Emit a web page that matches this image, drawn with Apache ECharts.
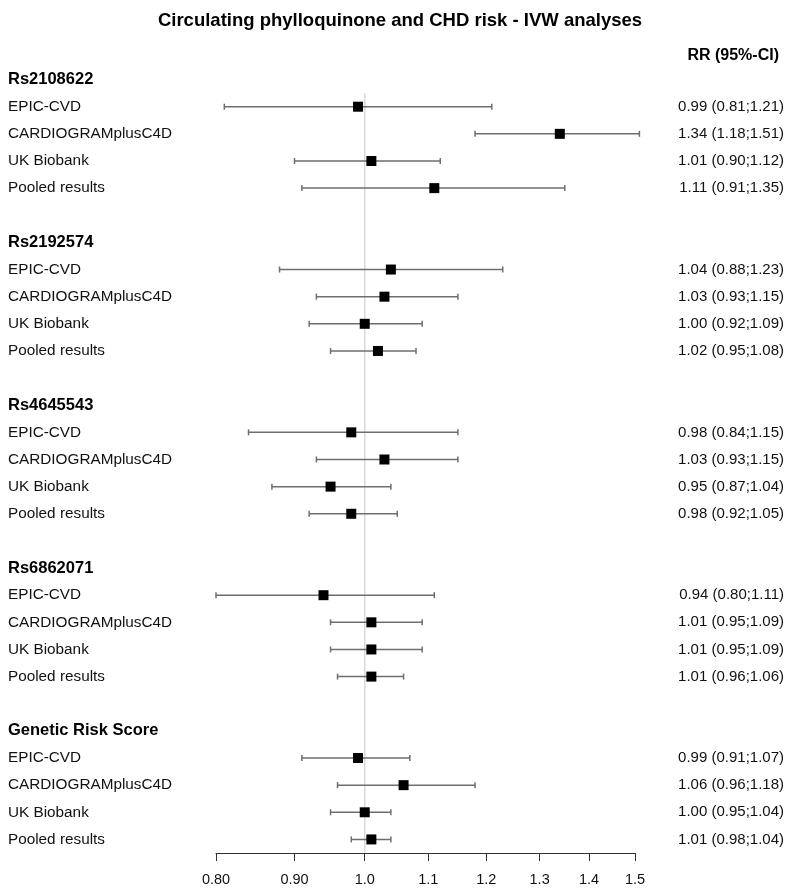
<!DOCTYPE html>
<html>
<head>
<meta charset="utf-8">
<script src="https://cdn.jsdelivr.net/npm/echarts@6/dist/echarts.min.js"></script>
<style>html,body{margin:0;padding:0;background:#fff;}#chart{width:800px;height:895px;}</style>
</head>
<body>
<div id="chart"></div>
<script>
const groups = ['Rs2108622', 'Rs2192574', 'Rs4645543', 'Rs6862071', 'Genetic Risk Score'];
const studies = ['EPIC-CVD', 'CARDIOGRAMplusC4D', 'UK Biobank', 'Pooled results'];
const rr = [
  [0.99, 1.34, 1.01, 1.11],
  [1.04, 1.03, 1.00, 1.02],
  [0.98, 1.03, 0.95, 0.98],
  [0.94, 1.01, 1.01, 1.01],
  [0.99, 1.06, 1.00, 1.01]
];
const lower = [
  [0.81, 1.18, 0.90, 0.91],
  [0.88, 0.93, 0.92, 0.95],
  [0.84, 0.93, 0.87, 0.92],
  [0.80, 0.95, 0.95, 0.96],
  [0.91, 0.96, 0.95, 0.98]
];
const upper = [
  [1.21, 1.51, 1.12, 1.35],
  [1.23, 1.15, 1.09, 1.08],
  [1.15, 1.15, 1.04, 1.05],
  [1.11, 1.09, 1.09, 1.06],
  [1.07, 1.18, 1.04, 1.04]
];
const xTicks = [0.8, 0.9, 1.0, 1.1, 1.2, 1.3, 1.4, 1.5];
const xTickLabels = ['0.80', '0.90', '1.0', '1.1', '1.2', '1.3', '1.4', '1.5'];
const refValue = 1.0;

// Build rows
const rows = [];
const points = [];
groups.forEach((g, gi) => {
  rows.push({type: 'h', left: g, right: ''});
  studies.forEach((s, si) => {
    const idx = rows.length;
    rows.push({type: 'r', left: s,
      right: rr[gi][si].toFixed(2) + ' (' + lower[gi][si].toFixed(2) + ';' + upper[gi][si].toFixed(2) + ')'});
    points.push([idx, rr[gi][si], lower[gi][si], upper[gi][si]]);
  });
  if (gi < groups.length - 1) rows.push({type: 'b', left: '', right: ''});
});
const cats = rows.map((r, i) => 'row' + i);
const FONT = 'Liberation Sans, Arial, Helvetica, sans-serif';

const chart = echarts.init(document.getElementById('chart'));
chart.setOption({
  backgroundColor: '#fff',
  animation: false,
  textStyle: {fontFamily: FONT},
  title: [
    {text: 'Circulating phylloquinone and CHD risk - IVW analyses', left: 'center', top: 6,
     textStyle: {fontFamily: FONT, fontSize: 18.5, fontWeight: 'bold', color: '#000'}},
    {text: 'RR (95%-CI)', right: 16, top: 43,
     textStyle: {fontFamily: FONT, fontSize: 16, fontWeight: 'bold', color: '#000'}}
  ],
  grid: {left: 216, right: 165, top: 66, bottom: 42, containLabel: false},
  xAxis: {
    type: 'log', logBase: 10, min: 0.8, max: 1.5,
    splitLine: {show: false},
    axisLine: {show: true, lineStyle: {color: '#333', width: 1}},
    axisTick: {show: true, length: 8, lineStyle: {color: '#333'}, customValues: xTicks},
    minorTick: {show: false},
    axisLabel: {
      customValues: xTicks, margin: 19, fontSize: 14.5, color: '#111', fontFamily: FONT,
      formatter: function (v) {
        for (let i = 0; i < xTicks.length; i++) if (Math.abs(xTicks[i] - v) < 1e-6) return xTickLabels[i];
        return '';
      }
    }
  },
  yAxis: [
    {
      type: 'category', data: cats, inverse: true, boundaryGap: true,
      axisLine: {show: false}, axisTick: {show: false}, splitLine: {show: false},
      axisLabel: {
        show: true, interval: 0, align: 'left', margin: 208,
        formatter: function (v, i) {
          const r = rows[i];
          if (!r || r.type === 'b') return '';
          return r.type === 'h' ? '{h|' + r.left + '}' : '{r|' + r.left + '}';
        },
        rich: {
          h: {fontFamily: FONT, fontSize: 16.5, fontWeight: 'bold', color: '#000'},
          r: {fontFamily: FONT, fontSize: 15.3, color: '#111'}
        }
      }
    },
    {
      type: 'category', data: cats, inverse: true, boundaryGap: true, position: 'right',
      axisLine: {show: false}, axisTick: {show: false}, splitLine: {show: false},
      axisLabel: {
        show: true, interval: 0, align: 'right', margin: 149,
        fontFamily: FONT, fontSize: 15, color: '#111',
        formatter: function (v, i) { const r = rows[i]; return r ? r.right : ''; }
      }
    }
  ],
  series: [
    {
      type: 'custom', name: 'ref', silent: true, z: 1, clip: false,
      data: [[refValue]],
      encode: {x: 0},
      renderItem: function (params, api) {
        const top = api.coord([refValue, 1]);
        const bot = api.coord([refValue, rows.length - 1]);
        const half = api.size([0, 1])[1] / 2;
        return {
          type: 'line',
          shape: {x1: top[0], y1: top[1] - half, x2: bot[0], y2: bot[1] + half},
          style: {stroke: '#d9d9d9', lineWidth: 1.5}
        };
      }
    },
    {
      type: 'custom', name: 'estimates', z: 3, clip: false,
      data: points,
      encode: {x: [1, 2, 3], y: 0},
      renderItem: function (params, api) {
        const y = api.value(0);
        const est = api.coord([api.value(1), y]);
        const lo = api.coord([api.value(2), y]);
        const hi = api.coord([api.value(3), y]);
        const cap = 3;
        const sq = 10;
        const lineStyle = {stroke: '#6e6e6e', lineWidth: 1.5};
        return {
          type: 'group',
          children: [
            {type: 'line', shape: {x1: lo[0], y1: lo[1], x2: hi[0], y2: hi[1]}, style: lineStyle},
            {type: 'line', shape: {x1: lo[0], y1: lo[1] - cap, x2: lo[0], y2: lo[1] + cap}, style: lineStyle},
            {type: 'line', shape: {x1: hi[0], y1: hi[1] - cap, x2: hi[0], y2: hi[1] + cap}, style: lineStyle},
            {type: 'rect', shape: {x: est[0] - sq / 2, y: est[1] - sq / 2, width: sq, height: sq},
             style: {fill: '#000'}}
          ]
        };
      }
    }
  ]
});
</script>
</body>
</html>
